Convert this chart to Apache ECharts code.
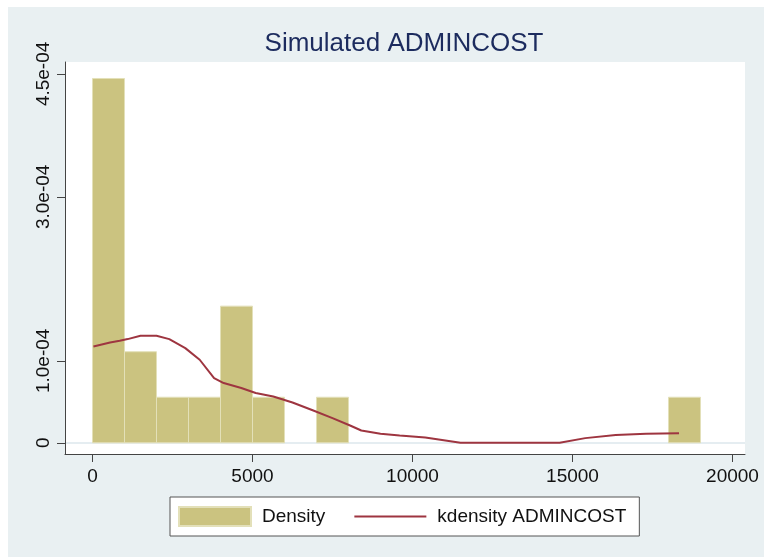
<!DOCTYPE html>
<html>
<head>
<meta charset="utf-8">
<script src="https://cdn.jsdelivr.net/npm/echarts@6/dist/echarts.min.js"></script>
<style>
  html, body { margin: 0; padding: 0; background: #fff; }
  #chart {
    position: absolute;
    left: 8px;
    top: 7px;
    width: 756px;
    height: 550px;
  }
</style>
</head>
<body>
<div id="chart"></div>
<script>
// histogram bins (width 1000), density per bin
const binWidth = 1000;
const binLeft = [0, 1000, 2000, 3000, 4000, 5000, 7000, 18000];
const binDensity = [4.444e-4, 1.111e-4, 0.556e-4, 0.556e-4, 1.667e-4, 0.556e-4, 0.556e-4, 0.556e-4];

// kernel density curve
const kdX = [30, 550, 850, 1100, 1500, 2000, 2400, 2900, 3350, 3800, 4100, 4650, 5100, 5650, 6250, 6900, 7500, 8050, 8400, 9000, 9600, 10400, 11500, 14600, 15400, 16350, 17300, 18330];
const kdY = [1.175e-4, 1.224e-4, 1.245e-4, 1.265e-4, 1.306e-4, 1.306e-4, 1.265e-4, 1.155e-4, 1.013e-4, 0.79e-4, 0.729e-4, 0.668e-4, 0.607e-4, 0.565e-4, 0.492e-4, 0.394e-4, 0.301e-4, 0.211e-4, 0.15e-4, 0.11e-4, 0.089e-4, 0.065e-4, 0, 0, 0.057e-4, 0.094e-4, 0.11e-4, 0.118e-4];

const xTicks = [0, 5000, 10000, 15000, 20000];
const yTicks = [0, 1.0e-4, 3.0e-4, 4.5e-4];
const yTickLabels = ['0', '1.0e-04', '3.0e-04', '4.5e-04'];

const barColor = '#cbc380';
const barEdge = '#e3e0b9';
const lineColor = '#9e3540';
const font = 'Liberation Sans, Arial, sans-serif';

const chart = echarts.init(document.getElementById('chart'));

const histData = binLeft.map((l, i) => [l, l + binWidth, binDensity[i]]);
const kdData = kdX.map((x, i) => [x, kdY[i]]);

chart.setOption({
  animation: false,
  backgroundColor: '#e9f0f2',
  title: {
    text: 'Simulated ADMINCOST',
    left: 391,
    top: 19,
    textAlign: 'center',
    textStyle: { fontFamily: font, fontSize: 26, fontWeight: 'normal', color: '#1c2b5e' },
  },
  grid: {
    left: 57,
    top: 55,
    width: 680,
    height: 392,
    show: true,
    backgroundColor: '#ffffff',
    borderWidth: 0,
  },
  legend: {
    left: 162,
    top: 490,
    orient: 'horizontal',
    backgroundColor: '#ffffff',
    borderColor: '#555',
    borderWidth: 1,
    padding: [9, 13, 9, 8],
    itemGap: 28,
    itemWidth: 72,
    itemHeight: 19,
    textStyle: { fontFamily: font, fontSize: 19, color: '#111', padding: [0, 0, 0, 6] },
    data: [
      { name: 'Density', icon: 'rect' },
      {
        name: 'kdensity ADMINCOST',
        itemStyle: { color: 'rgba(0,0,0,0)', borderColor: 'rgba(0,0,0,0)', borderWidth: 0, opacity: 0 },
      },
    ],
  },
  xAxis: {
    type: 'value',
    min: -859,
    max: 20391,
    splitLine: { show: false },
    axisLine: { onZero: false, lineStyle: { color: '#444', width: 1 } },
    axisTick: { customValues: xTicks, length: 8, lineStyle: { color: '#444' } },
    axisLabel: {
      customValues: xTicks,
      margin: 13,
      fontFamily: font,
      fontSize: 19,
      color: '#111',
      formatter: (v) => String(Math.round(v)),
    },
  },
  yAxis: {
    type: 'value',
    min: -0.1366e-4,
    max: 4.645e-4,
    splitLine: { show: false },
    axisLine: { show: true, onZero: false, lineStyle: { color: '#444', width: 1 } },
    axisTick: { show: true, customValues: yTicks, length: 8, lineStyle: { color: '#444' } },
    axisLabel: {
      customValues: yTicks,
      rotate: 90,
      margin: 12,
      fontFamily: font,
      fontSize: 19,
      color: '#111',
      formatter: (v) => {
        let best = 0;
        yTicks.forEach((t, i) => {
          if (Math.abs(t - v) < Math.abs(yTicks[best] - v)) best = i;
        });
        return yTickLabels[best];
      },
    },
  },
  series: [
    {
      name: 'Density',
      type: 'custom',
      itemStyle: { color: barColor, borderColor: barEdge, borderWidth: 1 },
      encode: { x: [0, 1], y: 2 },
      data: histData,
      renderItem: (params, api) => {
        const p0 = api.coord([api.value(0), api.value(2)]);
        const p1 = api.coord([api.value(1), 0]);
        return {
          type: 'rect',
          shape: { x: p0[0], y: p0[1], width: p1[0] - p0[0], height: p1[1] - p0[1] },
          style: { fill: barColor, stroke: barEdge, lineWidth: 1 },
        };
      },
      markLine: {
        silent: true,
        symbol: 'none',
        label: { show: false },
        lineStyle: { color: '#e4edf0', width: 1.5, type: 'solid' },
        data: yTicks.map((t) => ({ yAxis: t })),
        z: 0,
      },
      z: 2,
    },
    {
      name: 'kdensity ADMINCOST',
      type: 'line',
      symbol: 'none',
      smooth: false,
      lineStyle: { color: lineColor, width: 2 },
      itemStyle: { color: lineColor },
      data: kdData,
      z: 3,
    },
  ],
});
</script>
</body>
</html>
